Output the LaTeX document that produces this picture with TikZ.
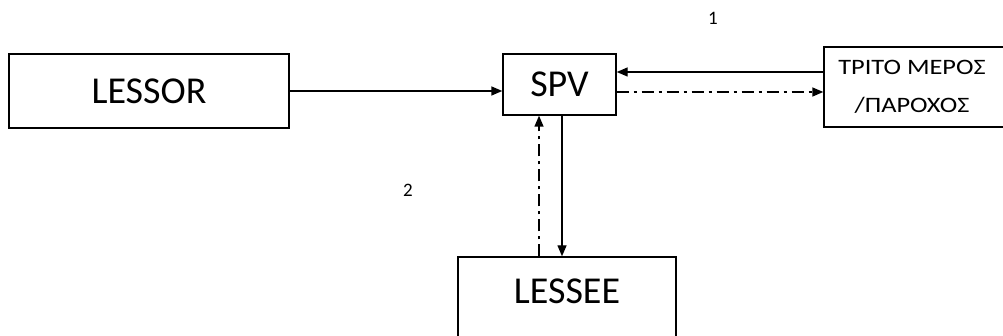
\documentclass[tikz,border=0pt]{standalone}
\usepackage{fontspec}
\setmainfont{Carlito}
\usetikzlibrary{arrows.meta}
\tikzset{
  box/.style={draw,line width=1.4pt,inner sep=0pt,font=\fontsize{38}{42}\selectfont},
  dashdot/.style={dash pattern=on 12pt off 5pt on 3pt off 5pt},
  lbl/.style={font=\fontsize{19}{22}\selectfont},
  tip/.style={-{Triangle[length=11pt,width=9pt]},black,line width=1.4pt}
}

\begin{document}
\begin{tikzpicture}[x=1pt,y=-1pt]
  \useasboundingbox (0,0) rectangle (1003,336);
  \node[box,minimum width=280pt,minimum height=74pt] (lessor) at (149,91) {LESSOR};
  \node[box,minimum width=113pt,minimum height=61pt] (spv) at (559.5,84.5) {SPV};
  \node[box,minimum width=181pt,minimum height=80pt,align=center,
        font=\fontsize{22}{38}\selectfont\addfontfeature{FakeStretch=1.2}] (trito) at (914.5,87) {\hspace*{-5pt}ΤΡΙΤΟ ΜΕΡΟΣ\\\hspace*{-5pt}/ΠΑΡΟΧΟΣ};
  \node[box,minimum width=218pt,minimum height=80pt] (lessee) at (567,297) {\raisebox{12pt}{LESSEE}};

  \node[lbl] (one) at (713,18) {1};
  \node[lbl] (two) at (408,190) {2};

  \draw [tip] (lessor.east) -- (lessor.east -| spv.west);
  \draw [tip] ([yshift=15pt]trito.west) -- ([yshift=15pt]trito.west -| spv.east);
  \draw [tip,dashdot] ([yshift=-7.5pt]spv.east) -- ([yshift=-7.5pt]spv.east -| trito.west);
  \draw [tip] ([xshift=2.5pt]spv.south) -- ([xshift=2.5pt]spv.south |- lessee.north);
  \draw [tip,dashdot] ([xshift=-20.5pt]spv.south |- lessee.north) -- ([xshift=-20.5pt]spv.south);
\end{tikzpicture}
\end{document}
